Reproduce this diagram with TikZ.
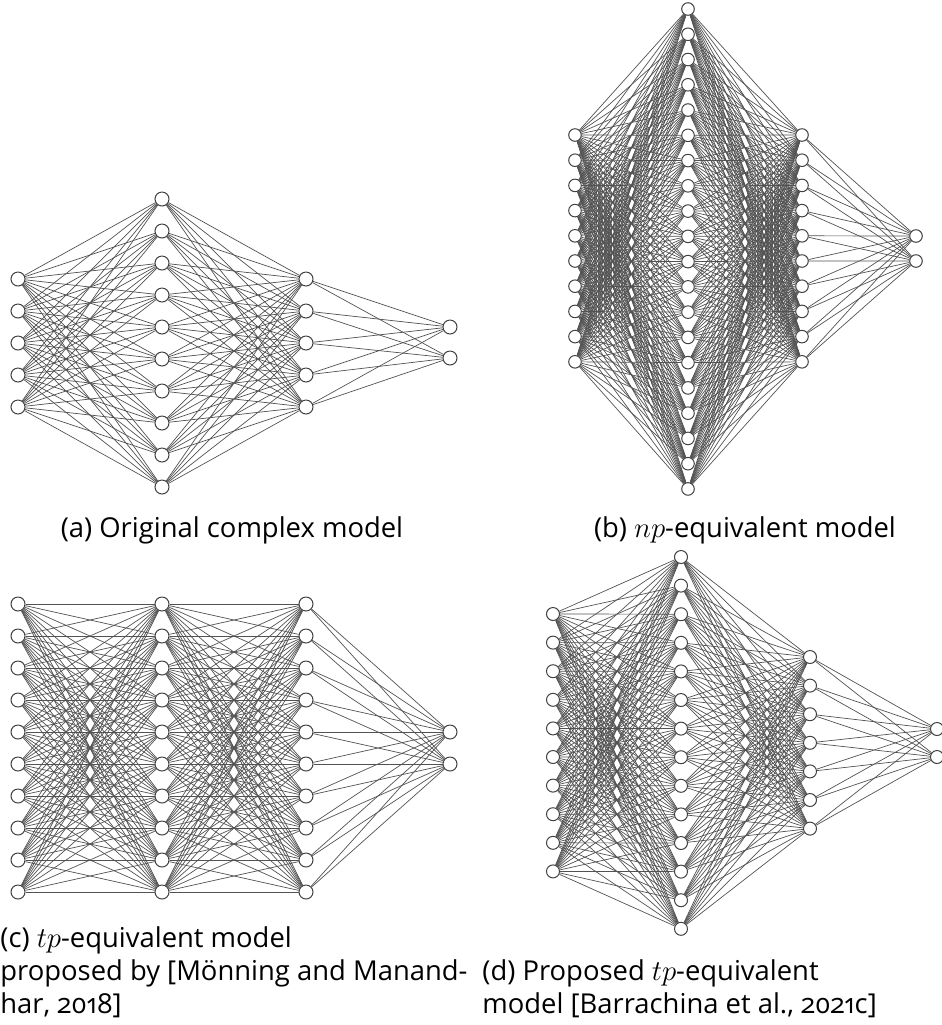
\documentclass[tikz,border=0pt]{standalone}
\usepackage{fontspec}
\setmainfont{Open Sans}[Numbers=OldStyle]

% one column of neurons: name, count, x, first y, step, size
\newcommand{\nnlayer}[6]{%
  \foreach \i in {1,...,#2}
    \node[neuron, minimum size=#6] (#1-\i) at ({#3},{#4+(\i-1)*#5}) {};}
% full connection between two columns: from, count, to, count
\newcommand{\nnlink}[4]{%
  \foreach \i in {1,...,#2}
    \foreach \j in {1,...,#4}
      \draw[link] (#1-\i) -- (#3-\j);}

\begin{document}
\begin{tikzpicture}[
  x=0.5pt, y=-0.5pt,
  neuron/.style={circle, draw=black!75, fill=white, line width=0.5pt, inner sep=0pt},
  link/.style={draw=black!68, line width=0.35pt},
  caption/.style={font=\fontsize{13.7}{16.5}\selectfont, inner sep=0pt}
]
\useasboundingbox (0,0) rectangle (942,1025);

% (a) original complex model
\nnlayer{aI}{5}{18}{279}{32}{7pt}
\nnlayer{aH}{10}{162}{199}{32}{7pt}
\nnlayer{aG}{5}{306}{279}{32}{7pt}
\nnlayer{aO}{2}{450}{327}{31}{7pt}
\nnlink{aI}{5}{aH}{10}
\nnlink{aH}{10}{aG}{5}
\nnlink{aG}{5}{aO}{2}

% (b) np-equivalent model
\nnlayer{bI}{10}{575}{135}{25.2}{6.3pt}
\nnlayer{bH}{20}{688}{9}{25.26}{6.3pt}
\nnlayer{bG}{10}{802}{135}{25.2}{6.3pt}
\nnlayer{bO}{2}{916}{236}{25}{6.3pt}
\nnlink{bI}{10}{bH}{20}
\nnlink{bH}{20}{bG}{10}
\nnlink{bG}{10}{bO}{2}

% (c) tp-equivalent model
\nnlayer{cI}{10}{18}{604}{32}{7pt}
\nnlayer{cH}{10}{162}{604}{32}{7pt}
\nnlayer{cG}{10}{306}{604}{32}{7pt}
\nnlayer{cO}{2}{450}{732}{32}{7pt}
\nnlink{cI}{10}{cH}{10}
\nnlink{cH}{10}{cG}{10}
\nnlink{cG}{10}{cO}{2}

% (d) proposed tp-equivalent model
\nnlayer{dI}{10}{553}{614}{28.6}{6.5pt}
\nnlayer{dH}{14}{681}{557}{28.6}{6.5pt}
\nnlayer{dG}{7}{810}{657}{28.6}{6.5pt}
\nnlayer{dO}{2}{937}{729}{28}{6.5pt}
\nnlink{dI}{10}{dH}{14}
\nnlink{dH}{14}{dG}{7}
\nnlink{dG}{7}{dO}{2}

% captions (base = last line)
\node[caption, anchor=base] (capA) at (232,537) {(a) Original complex model};
\node[caption, anchor=base] (capB) at (745,537) {(b) $np$-equivalent model};
\node[caption, anchor=base west, align=left] (capC) at (0,1013)
  {(c) $tp$-equivalent model\\proposed by [Mönning and Manand-\\har, 2018]};
\node[caption, anchor=base west, align=left] (capD) at (482,1013)
  {(d) Proposed $tp$-equivalent\\model [Barrachina et al., 2021c]};

\end{tikzpicture}
\end{document}
